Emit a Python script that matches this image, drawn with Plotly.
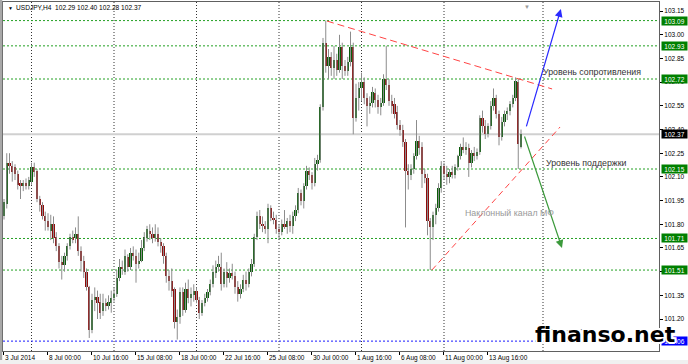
import plotly.graph_objects as go

# ---------------- data (USDJPY, H4) ----------------
opens = [
    101.85, 101.93, 102.19, 102.17, 102.16, 102.12, 102.06, 102.04, 102.06, 102.04,
    102.07, 102.16, 102.14, 101.96, 101.92, 101.85, 101.82, 101.76, 101.80, 101.72,
    101.66, 101.56, 101.54, 101.60, 101.66, 101.72, 101.71, 101.74, 101.63, 101.57,
    101.50, 101.40, 101.13, 101.32, 101.34, 101.31, 101.25, 101.30, 101.28, 101.30,
    101.33, 101.36, 101.46, 101.53, 101.50, 101.59, 101.53, 101.62, 101.60, 101.55,
    101.57, 101.65, 101.71, 101.76, 101.74, 101.71, 101.74, 101.69, 101.66, 101.60,
    101.47, 101.44, 101.39, 101.18, 101.21, 101.37, 101.26, 101.39, 101.33, 101.35,
    101.38, 101.32, 101.24, 101.30, 101.33, 101.37, 101.42, 101.49, 101.53, 101.53,
    101.42, 101.50, 101.46, 101.49, 101.47, 101.40, 101.36, 101.39, 101.45, 101.42,
    101.50, 101.55, 101.72, 101.85, 101.80, 101.79, 101.77, 101.90, 101.84, 101.83,
    101.77, 101.75, 101.80, 101.78, 101.82, 101.79, 101.85, 101.89, 102.00, 101.95,
    102.04, 102.14, 102.11, 102.06, 102.18, 102.21, 102.54, 102.95, 102.80, 102.86,
    102.79, 102.84, 102.78, 102.92, 102.80, 102.77, 102.83, 102.92, 102.47, 102.60,
    102.66, 102.70, 102.60, 102.55, 102.57, 102.63, 102.59, 102.54, 102.57, 102.72,
    102.68, 102.58, 102.56, 102.51, 102.43, 102.40, 102.32, 102.14, 102.11, 102.15,
    102.23, 102.33, 102.29, 102.12, 102.09, 101.82, 101.78, 101.86, 101.90, 102.03,
    102.17, 102.12, 102.10, 102.13, 102.11, 102.16, 102.23, 102.29, 102.27, 102.28,
    102.19, 102.25, 102.23, 102.26, 102.47, 102.42, 102.37, 102.42, 102.55, 102.60,
    102.50, 102.35, 102.45, 102.50, 102.52, 102.56, 102.60, 102.70, 102.29,
]
highs = [
    101.96, 102.25, 102.25, 102.20, 102.18, 102.14, 102.08, 102.08, 102.09, 102.10,
    102.19, 102.19, 102.15, 101.98, 101.94, 101.88, 101.87, 101.86, 101.85, 101.75,
    101.68, 101.60, 101.62, 101.68, 101.74, 101.76, 101.78, 101.85, 101.66, 101.60,
    101.52, 101.41, 101.36, 101.40, 101.38, 101.36, 101.36, 101.33, 101.35, 101.38,
    101.40, 101.51, 101.58, 101.57, 101.64, 101.61, 101.65, 101.66, 101.64, 101.62,
    101.70, 101.75, 101.79, 101.80, 101.78, 101.80, 101.78, 101.71, 101.68, 101.62,
    101.51, 101.52, 101.40, 101.26, 101.40, 101.40, 101.43, 101.45, 101.40, 101.42,
    101.40, 101.34, 101.32, 101.36, 101.39, 101.45, 101.54, 101.57, 101.60, 101.62,
    101.52, 101.56, 101.52, 101.55, 101.50, 101.44, 101.42, 101.48, 101.50, 101.52,
    101.58, 101.74, 101.88, 101.89, 101.85, 101.82, 101.93, 101.92, 101.88, 101.86,
    101.80, 101.83, 101.89, 101.84, 101.86, 101.88, 101.92, 102.03, 102.02, 102.06,
    102.17, 102.16, 102.13, 102.22, 102.24, 102.56, 102.98, 103.09, 102.91, 102.89,
    102.93, 102.88, 103.00, 102.95, 102.84, 102.86, 103.02, 102.95, 102.69, 102.70,
    102.76, 102.73, 102.63, 102.61, 102.67, 102.66, 102.62, 102.60, 102.75, 102.93,
    102.72, 102.62, 102.60, 102.55, 102.46, 102.43, 102.34, 102.18, 102.18, 102.25,
    102.46, 102.36, 102.32, 102.15, 102.12, 101.84, 101.88, 101.93, 102.06, 102.20,
    102.19, 102.17, 102.15, 102.17, 102.18, 102.24, 102.31, 102.35, 102.32, 102.31,
    102.27, 102.29, 102.28, 102.49, 102.52, 102.46, 102.44, 102.58, 102.66, 102.62,
    102.52, 102.48, 102.52, 102.54, 102.58, 102.62, 102.73, 102.72, 102.40,
]
lows = [
    101.83, 101.90, 102.12, 102.07, 102.08, 102.02, 101.96, 102.01, 102.02, 102.02,
    102.05, 102.10, 101.94, 101.88, 101.83, 101.76, 101.76, 101.70, 101.68, 101.63,
    101.52, 101.45, 101.50, 101.57, 101.64, 101.68, 101.68, 101.60, 101.50, 101.46,
    101.38, 101.08, 101.11, 101.25, 101.20, 101.20, 101.22, 101.25, 101.26, 101.24,
    101.31, 101.34, 101.44, 101.48, 101.48, 101.50, 101.51, 101.57, 101.43, 101.52,
    101.56, 101.63, 101.69, 101.70, 101.68, 101.69, 101.66, 101.62, 101.55, 101.43,
    101.38, 101.34, 101.14, 101.07, 101.17, 101.22, 101.24, 101.30, 101.28, 101.31,
    101.30, 101.20, 101.22, 101.28, 101.31, 101.35, 101.40, 101.46, 101.50, 101.38,
    101.40, 101.40, 101.43, 101.45, 101.36, 101.31, 101.33, 101.37, 101.38, 101.40,
    101.47, 101.53, 101.70, 101.77, 101.75, 101.74, 101.68, 101.82, 101.80, 101.74,
    101.70, 101.73, 101.77, 101.74, 101.75, 101.74, 101.82, 101.87, 101.92, 101.90,
    102.02, 102.08, 102.02, 102.04, 102.14, 102.19, 102.52, 102.76, 102.72, 102.74,
    102.72, 102.74, 102.76, 102.72, 102.74, 102.74, 102.80, 102.37, 102.45, 102.52,
    102.58, 102.56, 102.42, 102.50, 102.54, 102.54, 102.50, 102.49, 102.55, 102.65,
    102.55, 102.50, 102.47, 102.40, 102.36, 102.29, 101.78, 102.02, 102.08, 102.12,
    102.21, 102.24, 102.03, 102.06, 101.73, 101.51, 101.70, 101.80, 101.88, 102.00,
    102.08, 102.05, 102.06, 102.09, 102.09, 102.14, 102.21, 102.25, 102.24, 102.10,
    102.16, 102.20, 102.21, 102.24, 102.38, 102.34, 102.35, 102.40, 102.52, 102.47,
    102.30, 102.33, 102.42, 102.46, 102.49, 102.54, 102.58, 102.15, 102.28,
]
closes = [
    101.94, 102.19, 102.17, 102.13, 102.12, 102.05, 102.04, 102.06, 102.04, 102.08,
    102.16, 102.13, 101.96, 101.92, 101.85, 101.82, 101.78, 101.80, 101.71, 101.66,
    101.56, 101.54, 101.60, 101.66, 101.72, 101.70, 101.74, 101.63, 101.57, 101.50,
    101.40, 101.13, 101.32, 101.34, 101.30, 101.24, 101.30, 101.28, 101.31, 101.33,
    101.36, 101.46, 101.53, 101.52, 101.60, 101.53, 101.62, 101.60, 101.55, 101.57,
    101.65, 101.72, 101.77, 101.74, 101.71, 101.74, 101.69, 101.66, 101.60, 101.47,
    101.44, 101.38, 101.18, 101.21, 101.37, 101.26, 101.39, 101.33, 101.36, 101.38,
    101.32, 101.24, 101.30, 101.33, 101.37, 101.42, 101.50, 101.53, 101.55, 101.42,
    101.50, 101.46, 101.49, 101.47, 101.40, 101.36, 101.39, 101.45, 101.42, 101.50,
    101.55, 101.72, 101.85, 101.80, 101.79, 101.77, 101.90, 101.84, 101.83, 101.77,
    101.75, 101.80, 101.78, 101.82, 101.79, 101.85, 101.89, 102.00, 101.95, 102.04,
    102.14, 102.11, 102.06, 102.18, 102.21, 102.54, 102.95, 102.80, 102.86, 102.79,
    102.84, 102.78, 102.92, 102.80, 102.77, 102.83, 102.92, 102.47, 102.60, 102.66,
    102.70, 102.60, 102.55, 102.57, 102.64, 102.59, 102.54, 102.57, 102.72, 102.68,
    102.58, 102.55, 102.50, 102.43, 102.40, 102.32, 102.14, 102.11, 102.15, 102.23,
    102.33, 102.28, 102.12, 102.09, 101.82, 101.78, 101.86, 101.90, 102.03, 102.17,
    102.12, 102.10, 102.13, 102.11, 102.16, 102.23, 102.29, 102.27, 102.29, 102.19,
    102.25, 102.23, 102.26, 102.47, 102.42, 102.37, 102.42, 102.55, 102.60, 102.50,
    102.35, 102.45, 102.50, 102.52, 102.56, 102.60, 102.71, 102.31, 102.37,
]
bars = list(range(len(closes)))

date_bars = [0, 16, 32, 48, 64, 80, 96, 112, 128, 144, 160, 176]
date_labels = ["3 Jul 2014", "8 Jul 00:00", "10 Jul 16:00", "15 Jul 08:00", "18 Jul 00:00",
               "22 Jul 16:00", "25 Jul 08:00", "30 Jul 00:00", "1 Aug 16:00", "6 Aug 08:00",
               "11 Aug 00:00", "13 Aug 16:00"]
grid_bars = [10, 40, 70, 100, 130, 160, 196]

price_ticks = [101.05, 101.20, 101.35, 101.50, 101.65, 101.80, 101.95, 102.10,
               102.25, 102.40, 102.55, 102.70, 102.85, 103.00, 103.15]
level_prices = [103.09, 102.93, 102.72, 102.15, 101.71, 101.51]
pivot_price = 101.06

resist_bars = [117.45, 199.3]
resist_prices = [103.087, 102.657]
channel_bars = [155.6, 202.2]
channel_prices = [101.51, 102.416]
up_arrow_bars = [189.8, 202.5]
up_arrow_prices = [102.41, 103.163]
down_arrow_bars = [189.1, 202.9]
down_arrow_prices = [102.365, 101.65]

# ---------------- figure ----------------
FONT = "Liberation Sans, Arial, sans-serif"
X_RANGE = [-0.364, 238.18]
Y_RANGE = [100.9974, 103.2077]

fig = go.Figure()

# wicks (high-low segments)
wick_x, wick_y = [], []
for b, h, l in zip(bars, highs, lows):
    wick_x += [b, b, None]
    wick_y += [l, h, None]
fig.add_trace(go.Scatter(x=wick_x, y=wick_y, mode="lines",
                         line=dict(color="#8c8c8c", width=1),
                         hoverinfo="skip", showlegend=False))
# bodies
body_base = [min(o, c) for o, c in zip(opens, closes)]
body_h = [max(abs(c - o), 0.006) for o, c in zip(opens, closes)]
body_col = ["#0b5c0b" if c >= o else "#8e0c0c" for o, c in zip(opens, closes)]
fig.add_trace(go.Bar(
    x=bars, y=body_h, base=body_base, width=0.78,
    marker=dict(color=body_col, line=dict(width=0)),
    hoverinfo="skip", showlegend=False,
))

shapes = []
for g in grid_bars:
    shapes.append(dict(type="line", xref="x", yref="paper", x0=g, x1=g, y0=0, y1=1,
                       line=dict(color="#333333", width=1, dash="1px,2px"), layer="below"))
shapes.append(dict(type="line", xref="paper", yref="y", x0=0, x1=1,
                   y0=closes[-1], y1=closes[-1],
                   line=dict(color="#d0d0d0", width=2), layer="below"))
for p in level_prices:
    shapes.append(dict(type="line", xref="paper", yref="y", x0=0, x1=1, y0=p, y1=p,
                       line=dict(color="#22a022", width=1, dash="2px,2px"), layer="below"))
shapes.append(dict(type="line", xref="paper", yref="y", x0=0, x1=1,
                   y0=pivot_price, y1=pivot_price,
                   line=dict(color="#1a1aff", width=1, dash="2px,2px"), layer="below"))
shapes.append(dict(type="line", xref="x", yref="y", x0=resist_bars[0], x1=resist_bars[1],
                   y0=resist_prices[0], y1=resist_prices[1],
                   line=dict(color="#ff4444", width=1, dash="7px,4px"), layer="above"))
shapes.append(dict(type="line", xref="x", yref="y", x0=channel_bars[0], x1=channel_bars[1],
                   y0=channel_prices[0], y1=channel_prices[1],
                   line=dict(color="#ff4444", width=1, dash="6px,4px"), layer="above"))
# window edges
shapes.append(dict(type="rect", xref="paper", yref="paper", x0=-0.0046, x1=-0.0012,
                   y0=-0.04, y1=1.01, fillcolor="#a8a8a8", line=dict(width=0)))
shapes.append(dict(type="rect", xref="paper", yref="paper", x0=-0.01, x1=1.05,
                   y0=-0.0375, y1=-0.0255, fillcolor="#f0f0f0", line=dict(width=0)))

ann = []
# header
ann.append(dict(xref="paper", yref="paper", x=0.0046, y=0.983, xanchor="left", yanchor="middle",
                showarrow=False, font=dict(family=FONT, size=5, color="#000"), text="▼"))
ann.append(dict(xref="paper", yref="paper", x=0.0168, y=0.983, xanchor="left", yanchor="middle",
                showarrow=False, font=dict(family=FONT, size=6.6, color="#000"),
                text=f"USDJPY,H4  {opens[-1]:.2f} {highs[-1]:.2f} {lows[-1]:.2f} {closes[-1]:.2f}"))
ann.append(dict(xref="paper", yref="paper", x=(527 - 3) / 656, y=1.0, xanchor="center", yanchor="top",
                showarrow=False, font=dict(family=FONT, size=6, color="#999"), text="▼"))
# date labels
for b, t in zip(date_bars, date_labels):
    ann.append(dict(xref="x", yref="paper", x=b - 0.3, y=0, xanchor="left", yanchor="top",
                    yshift=-1, xshift=0, showarrow=False,
                    font=dict(family=FONT, size=6.5, color="#000"), text=t))
# price boxes
for p in level_prices:
    ann.append(dict(xref="paper", yref="y", x=1.003, y=p, xanchor="left", yanchor="middle",
                    showarrow=False, text=f"{p:.2f}", bgcolor="#008000", width=25, height=8,
                    borderpad=0, font=dict(family=FONT, size=6.5, color="#fff")))
ann.append(dict(xref="paper", yref="y", x=1.003, y=pivot_price, xanchor="left", yanchor="middle",
                showarrow=False, text=f"{pivot_price:.2f}", bgcolor="#0000ff", width=25, height=8,
                borderpad=0, font=dict(family=FONT, size=6.5, color="#fff")))
ann.append(dict(xref="paper", yref="y", x=1.003, y=closes[-1], xanchor="left", yanchor="middle",
                showarrow=False, text=f"{closes[-1]:.2f}", bgcolor="#000000", width=25, height=8,
                borderpad=0, font=dict(family=FONT, size=6.5, color="#fff")))
# arrows
ann.append(dict(xref="x", yref="y", axref="x", ayref="y", x=up_arrow_bars[1], y=up_arrow_prices[1],
                ax=up_arrow_bars[0], ay=up_arrow_prices[0], text="", showarrow=True,
                arrowhead=2, arrowsize=1.3, arrowwidth=1.2, arrowcolor="#2a2aff", standoff=0))
ann.append(dict(xref="x", yref="y", axref="x", ayref="y", x=down_arrow_bars[1], y=down_arrow_prices[1],
                ax=down_arrow_bars[0], ay=down_arrow_prices[0], text="", showarrow=True,
                arrowhead=2, arrowsize=1.3, arrowwidth=1.2, arrowcolor="#3c9a3c", standoff=0))
# text objects
ann.append(dict(xref="x", yref="y", x=195.3, y=102.764, xanchor="left", yanchor="middle",
                showarrow=False, text="Уровень сопротивления",
                font=dict(family=FONT, size=8.8, color="#333")))
ann.append(dict(xref="x", yref="y", x=196.4, y=102.188, xanchor="left", yanchor="middle",
                showarrow=False, text="Уровень поддержки",
                font=dict(family=FONT, size=8.8, color="#333")))
ann.append(dict(xref="x", yref="y", x=166.9, y=101.871, xanchor="left", yanchor="middle",
                showarrow=False, text="Наклонный канал МФ",
                font=dict(family=FONT, size=8.8, color="#999")))
ann.append(dict(xref="x", yref="y", x=197.1, y=101.118, xanchor="left", yanchor="middle",
                showarrow=False, text="Пивот МФ",
                font=dict(family=FONT, size=8.8, color="#555")))
# logo with white halo
logo_x = (533 - 3) / 656
logo_y = (351 - 334) / 349
for dx, dy in [(-2, 0), (2, 0), (0, -2), (0, 2), (-1.5, -1.5), (1.5, 1.5), (-1.5, 1.5), (1.5, -1.5)]:
    ann.append(dict(xref="paper", yref="paper", x=logo_x, y=logo_y, xanchor="left", yanchor="middle",
                    xshift=dx, yshift=dy, showarrow=False, text="<b>finanso.net</b>",
                    font=dict(family="DejaVu Sans", size=22, color="#ffffff")))
ann.append(dict(xref="paper", yref="paper", x=logo_x, y=logo_y, xanchor="left", yanchor="middle",
                showarrow=False, text="<b>finanso.net</b>",
                font=dict(family="DejaVu Sans", size=22, color="#000000")))

fig.update_layout(
    width=688, height=364,
    margin=dict(l=3, r=29, t=2, b=13),
    paper_bgcolor="#ffffff", plot_bgcolor="#ffffff",
    showlegend=False, hovermode=False, bargap=0,
    shapes=shapes, annotations=ann,
    xaxis=dict(range=X_RANGE, rangeslider=dict(visible=False), showgrid=False, zeroline=False,
               tickvals=[b - 0.3 for b in date_bars], ticks="outside", ticklen=3,
               tickcolor="#000", showticklabels=False,
               showline=True, linecolor="#606060", linewidth=1, mirror=True, fixedrange=True),
    yaxis=dict(range=Y_RANGE, side="right", showgrid=False, zeroline=False,
               tickvals=price_ticks, ticktext=[f"{v:.2f}" for v in price_ticks],
               ticks="outside", ticklen=3, tickcolor="#000",
               tickfont=dict(family=FONT, size=6.5, color="#000"),
               showline=True, linecolor="#606060", linewidth=1, mirror=True, fixedrange=True),
)

fig.write_html("out.html", config={"displayModeBar": False},
               post_script="document.body.style.margin='0';document.body.style.padding='0';")
